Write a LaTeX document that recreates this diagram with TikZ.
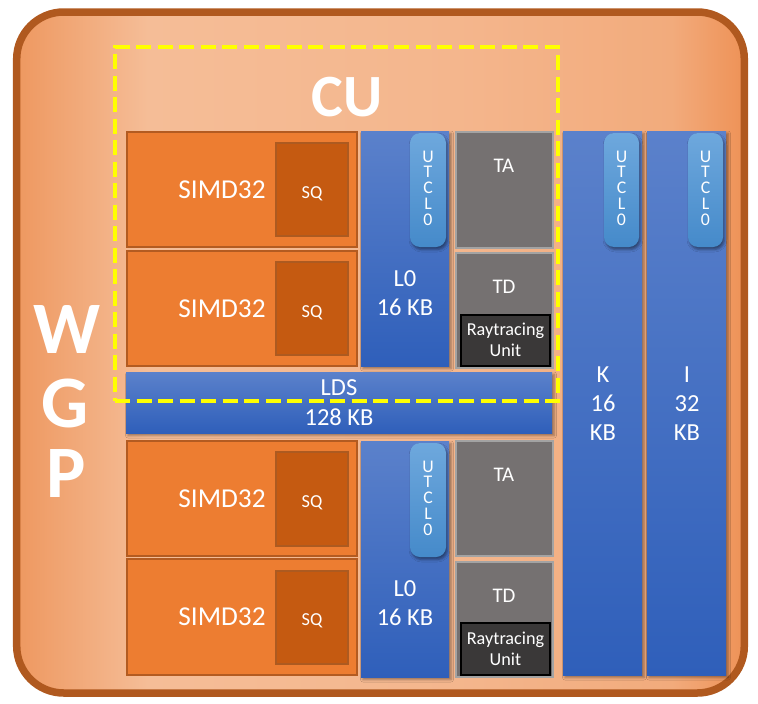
\documentclass[tikz,border=0pt]{standalone}
\usepackage{fontspec}
\setmainfont{Carlito}
\usetikzlibrary{shadows.blur}
\definecolor{wgpborder}{HTML}{B0591F}
\definecolor{wl}{HTML}{EE9860}
\definecolor{wm1}{HTML}{F5BD97}
\definecolor{wm2}{HTML}{F4B68D}
\definecolor{wm3}{HTML}{F2AB7C}
\definecolor{wr}{HTML}{EE9257}
\definecolor{simdfill}{HTML}{ED7D31}
\definecolor{simdline}{HTML}{B35B21}
\definecolor{sqfill}{HTML}{C55A11}
\definecolor{sqline}{HTML}{AD5A20}
\definecolor{bluetop}{HTML}{5B81CB}
\definecolor{bluebot}{HTML}{2F5FBA}
\definecolor{utop}{HTML}{6EA8DD}
\definecolor{ubot}{HTML}{458ACA}
\definecolor{grayfill}{HTML}{757171}
\definecolor{grayline}{HTML}{A3A3A3}
\definecolor{rtfill}{HTML}{3A3838}
\definecolor{cuyellow}{HTML}{FFFF00}
\pgfdeclarehorizontalshading{wgpshade}{100bp}{color(0bp)=(wl); color(25bp)=(wl); color(34bp)=(wm1); color(55bp)=(wm2); color(70bp)=(wm3); color(75bp)=(wr); color(100bp)=(wr)}
\newcommand{\blk}[6]{\node[#2, anchor=north west, minimum width={(#5)-(#3)}, minimum height={(#6)-(#4)}] (#1) at (#3,#4) {};}
\begin{document}
\begin{tikzpicture}[x=1pt,y=-1pt,
  box/.style={inner sep=0pt, outer sep=0pt},
  wgpframe/.style={box, draw=wgpborder, line width=7.5pt, rounded corners=47pt, shading=wgpshade},
  simdbox/.style={box, fill=simdfill, draw=simdline, line width=1.5pt},
  sqbox/.style={box, fill=sqfill, draw=sqline, line width=1.5pt},
  bluebox/.style={box, top color=bluetop, bottom color=bluebot,
    blur shadow={shadow xshift=2pt, shadow yshift=-2.5pt, shadow blur radius=2.5pt, shadow opacity=40}},
  pill/.style={box, rounded corners=10pt, top color=utop, bottom color=ubot,
    blur shadow={shadow xshift=1.5pt, shadow yshift=-2.5pt, shadow blur radius=2.5pt, shadow opacity=45}},
  graybox/.style={box, fill=grayfill, draw=grayline, line width=1.2pt},
  rtbox/.style={box, fill=rtfill, draw=black, line width=1.2pt},
  cuframe/.style={box, draw=cuyellow, line width=4.5pt, dash pattern=on 15pt off 6.5pt},
  lbl/.style={text=white, inner sep=0pt, anchor=base},
  fbig/.style={font=\fontsize{27.3}{32}\selectfont},
  fmid/.style={font=\fontsize{24.5}{29}\selectfont},
  fsq/.style={font=\fontsize{18.3}{21}\selectfont},
  fta/.style={font=\fontsize{20.8}{24}\selectfont},
  frt/.style={font=\fontsize{18.2}{21}\selectfont},
  fut/.style={font=\fontsize{17.8}{20}\selectfont},
  ftitle/.style={font=\fontsize{74}{80}\selectfont\bfseries},
  fcu/.style={font=\fontsize{60}{70}\selectfont\bfseries}]
\useasboundingbox (0,0) rectangle (758,704);
% outer WGP frame
\blk{wgp}{wgpframe}{16.7}{12}{744.3}{693}
% SIMD boxes
\blk{simd1}{simdbox}{127}{132}{357}{247}
\blk{simd2}{simdbox}{127}{251}{357}{366}
\blk{simd3}{simdbox}{127}{441}{357}{556}
\blk{simd4}{simdbox}{127}{559}{357}{675}
\blk{sq1}{sqbox}{276}{143}{348}{236}
\blk{sq2}{sqbox}{276}{262}{348}{355}
\blk{sq3}{sqbox}{276}{452}{348}{546}
\blk{sq4}{sqbox}{276}{571}{348}{664}
% blue memories
\blk{l0a}{bluebox}{361}{131}{449}{366}
\blk{l0b}{bluebox}{361}{441}{449}{677}
\blk{lds}{bluebox}{126}{372}{552}{433}
\blk{kbox}{bluebox}{563}{131}{642}{675}
\blk{ibox}{bluebox}{647}{131}{726}{675}
% UTCL0 pills
\blk{ua}{pill}{410}{133}{446}{247}
\blk{ub}{pill}{410}{443}{446}{557}
\blk{uk}{pill}{604}{133}{639}{247}
\blk{ui}{pill}{688}{133}{723}{247}
% texture units
\blk{taa}{graybox}{456}{132}{553}{248}
\blk{tda}{graybox}{456}{253}{553}{368}
\blk{tab}{graybox}{456}{441}{553}{556}
\blk{tdb}{graybox}{456}{562}{553}{677}
\blk{rta}{rtbox}{461}{315}{550}{366}
\blk{rtb}{rtbox}{461}{623}{550}{675}
% labels
\node[lbl, fbig] (simd1 t) at (222,198) {SIMD32};
\node[lbl, fbig] (simd2 t) at (222,317) {SIMD32};
\node[lbl, fbig] (simd3 t) at (222,507) {SIMD32};
\node[lbl, fbig] (simd4 t) at (222,625) {SIMD32};
\node[lbl, fsq] (sq1 t) at (312,198) {SQ};
\node[lbl, fsq] (sq2 t) at (312,317) {SQ};
\node[lbl, fsq] (sq3 t) at (312,507) {SQ};
\node[lbl, fsq] (sq4 t) at (312,625) {SQ};
\node[lbl, fmid] (l0a t1) at (405,286) {L0};
\node[lbl, fmid] (l0a t2) at (405,315) {16 KB};
\node[lbl, fmid] (l0b t1) at (405,596) {L0};
\node[lbl, fmid] (l0b t2) at (405,625) {16 KB};
\node[lbl, fmid] (lds t1) at (339,395) {LDS};
\node[lbl, fmid] (lds t2) at (339,425) {128 KB};
\node[lbl, fmid] (k t1) at (603,382) {K};
\node[lbl, fmid] (k t2) at (603,411) {16};
\node[lbl, fmid] (k t3) at (603,440) {KB};
\node[lbl, fmid] (i t1) at (687,382) {I};
\node[lbl, fmid] (i t2) at (687,411) {32};
\node[lbl, fmid] (i t3) at (687,440) {KB};
\node[lbl, fta] (taa t) at (504,172) {TA};
\node[lbl, fta] (tda t) at (504,293) {TD};
\node[lbl, fta] (tab t) at (504,481) {TA};
\node[lbl, fta] (tdb t) at (504,602) {TD};
\node[lbl, frt] (rta t1) at (505.5,335) {Raytracing};
\node[lbl, frt] (rta t2) at (505.5,356) {Unit};
\node[lbl, frt] (rtb t1) at (505.5,644) {Raytracing};
\node[lbl, frt] (rtb t2) at (505.5,665) {Unit};
\foreach \px/\py/\nm in {428/162/ua, 428/472/ub, 621.5/162/uk, 705.5/162/ui}{
  \foreach \ch [count=\k from 0] in {U,T,C,L,0}{
    \node[lbl, fut] (\nm-\k) at (\px,\py+15.75*\k) {\ch};
  }
}
% WGP title
\node[lbl, ftitle] (w t) at (67,353) {W};
\node[lbl, ftitle] (g t) at (65,427) {G};
\node[lbl, ftitle] (p t) at (66,497) {P};
% CU frame and title
\blk{cu}{cuframe}{115}{47}{558}{401}
\node[lbl, fcu] (cu t) at (347,116) {CU};
\end{tikzpicture}
\end{document}
